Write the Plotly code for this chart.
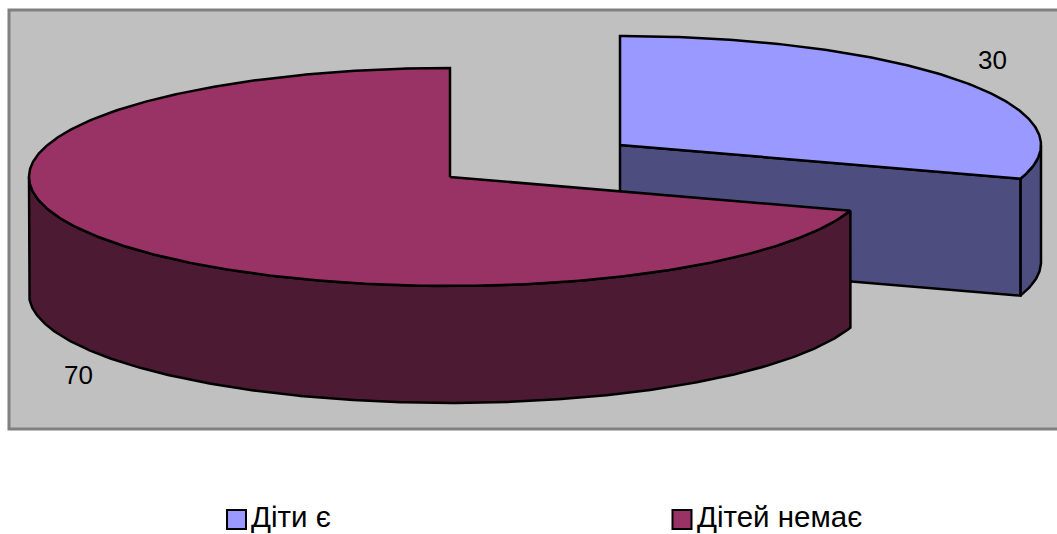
import numpy as np
import plotly.graph_objects as go

# Data
categories = ["Діти є", "Дітей немає"]
values = [30, 70]

# Palette: top face, side wall
top_colors = ["#9999FF", "#993366"]
side_colors = ["#4D4D80", "#4D1A33"]

# Projection of the tilted pie, in canvas pixels
WIDTH, HEIGHT = 1057, 534
RX, RY, DEPTH = 421, 109, 117
centers = [(620, 145), (450, 177)]  # the first slice is pulled out
LINE = dict(color="#000000", width=2.5)
FONT = "Liberation Sans, Arial, sans-serif"


def rim(center, t0, t1, drop=0.0):
    """Points along the ellipse from angle t0 to t1 (degrees, clockwise from 12 o'clock)."""
    t = np.radians(np.linspace(t0, t1, max(int(abs(t1 - t0)) * 2, 2)))
    return center[0] + RX * np.sin(t), center[1] - RY * np.cos(t) + drop


def add_poly(fig, x, y, fill, name):
    fig.add_trace(go.Scatter(
        x=list(x) + [x[0]], y=list(y) + [y[0]], mode="lines", fill="toself",
        fillcolor=fill, line=LINE, name=name, showlegend=False, hoverinfo="name",
    ))


def add_wall(fig, center, t0, t1, fill, name):
    x, y = rim(center, t0, t1)
    xb, yb = rim(center, t1, t0, DEPTH)
    add_poly(fig, np.r_[x, xb], np.r_[y, yb], fill, name)


shares = np.cumsum([0] + values) / sum(values) * 360
fig = go.Figure()

# Pulled-out slice: walls first, then its top face
c = centers[0]
a0, a1 = shares[0], shares[1]
add_wall(fig, c, max(a0, 90), a1, side_colors[0], categories[0])
ex, ey = rim(c, a1, a1)
ex, ey = ex[0], ey[0]
add_poly(fig, [c[0], ex, ex, c[0]], [c[1], ey, ey + DEPTH, c[1] + DEPTH], side_colors[0], categories[0])
x, y = rim(c, a0, a1)
add_poly(fig, np.r_[c[0], x], np.r_[c[1], y], top_colors[0], categories[0])

# Large slice sits in front of it
c = centers[1]
a0, a1 = shares[1], shares[2]
add_wall(fig, c, a0, 270, side_colors[1], categories[1])
x, y = rim(c, a0, a1)
add_poly(fig, np.r_[c[0], x], np.r_[c[1], y], top_colors[1], categories[1])

# Value labels
label_pos = [(992, 60), (78, 375)]
for v, (lx, ly) in zip(values, label_pos):
    fig.add_annotation(x=lx, y=ly, text=str(v), showarrow=False,
                       font=dict(family=FONT, size=26, color="#000000"))

# Legend row
legend_pos = [(236.5, 519.5), (682, 519.5)]
for name, fill, (lx, ly) in zip(categories, top_colors, legend_pos):
    fig.add_trace(go.Scatter(
        x=[lx], y=[ly], mode="markers", showlegend=False, hoverinfo="name", name=name,
        marker=dict(symbol="square", size=19, color=fill, line=dict(color="#000000", width=2)),
    ))
    fig.add_annotation(x=lx + 12.5, y=ly - 3, text=name, showarrow=False, xanchor="left",
                       font=dict(family=FONT, size=29.5, color="#000000"))

# Grey plot area, open at the right edge of the canvas
fig.add_shape(type="rect", x0=9, y0=10, x1=WIDTH + 20, y1=429, layer="below",
              fillcolor="#C0C0C0", line=dict(color="#808080", width=3))

fig.update_layout(
    width=WIDTH, height=HEIGHT, margin=dict(l=0, r=0, t=0, b=0),
    paper_bgcolor="#FFFFFF", plot_bgcolor="#FFFFFF", showlegend=False,
    xaxis=dict(range=[0, WIDTH], visible=False, fixedrange=True),
    yaxis=dict(range=[HEIGHT, 0], visible=False, fixedrange=True),
)
fig.write_html("out.html", config=dict(displayModeBar=False))
